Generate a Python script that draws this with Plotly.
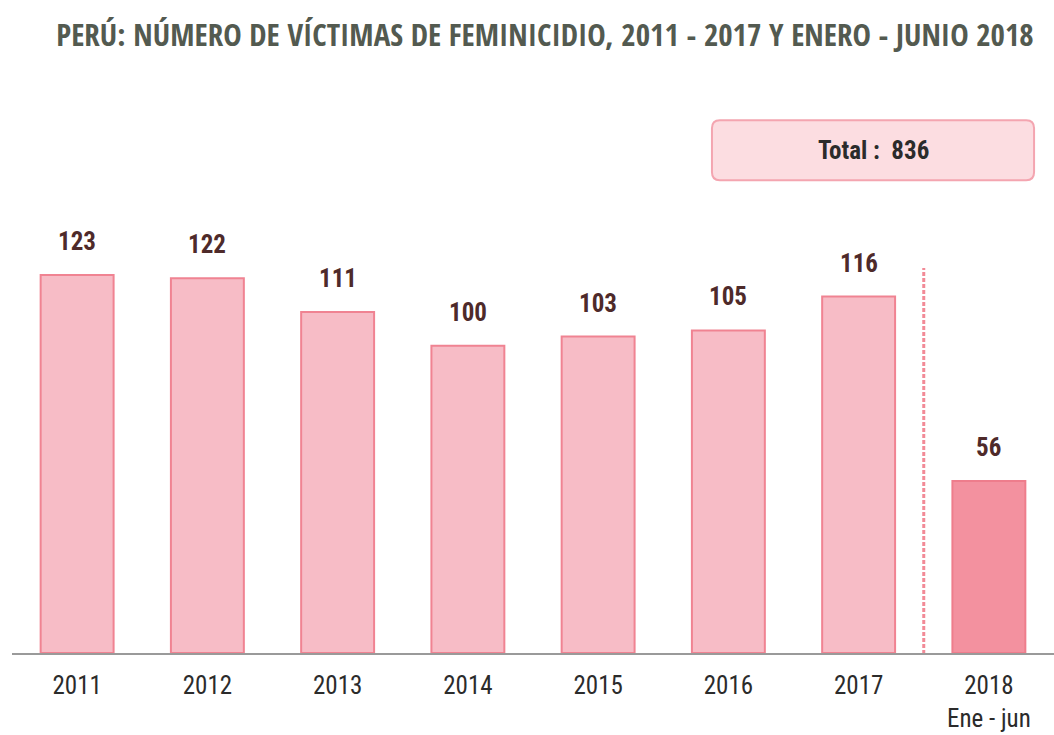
import plotly.graph_objects as go

years = ["2011", "2012", "2013", "2014", "2015", "2016", "2017", "2018"]
tick_labels = ["2011", "2012", "2013", "2014", "2015", "2016", "2017", "2018<br>Ene - jun"]
victims = [123, 122, 111, 100, 103, 105, 116, 56]
total_label = "Total :  836"
title = "PERÚ: NÚMERO DE VÍCTIMAS DE FEMINICIDIO, 2011 - 2017 Y ENERO - JUNIO 2018"

fills = ["#f7bcc6"] * 7 + ["#f3919f"]
lines = ["#f08392"] * 7 + ["#ee7d8c"]

narrow = "Roboto Condensed, Liberation Sans Narrow, DejaVu Sans Condensed, sans-serif"
title_font = "Open Sans Condensed, Roboto Condensed, sans-serif"

fig = go.Figure()
fig.add_trace(go.Bar(
    x=list(range(len(years))), y=victims,
    width=0.56,
    marker=dict(color=fills, line=dict(color=lines, width=2)),
    hoverinfo="skip",
))

for i, v in enumerate(victims):
    fig.add_annotation(x=i, y=v, text=f"<b>{v}</b>", showarrow=False,
                       yanchor="bottom", yshift=17,
                       font=dict(family=narrow, size=25, color="#4e2a2a"))

# dashed separator between 2017 and 2018
fig.add_shape(type="line", x0=6.5, x1=6.5, y0=-2.3, y1=125.3,
              xref="x", yref="y",
              line=dict(color="#f28a97", width=3, dash="4px,2px"))

# rounded total box
x0, x1, y0, y1 = 4.874, 7.347, 153.9, 173.4
rx, ry = 0.06, 2.6
path = (f"M {x0+rx},{y0} L {x1-rx},{y0} Q {x1},{y0} {x1},{y0+ry} "
        f"L {x1},{y1-ry} Q {x1},{y1} {x1-rx},{y1} L {x0+rx},{y1} "
        f"Q {x0},{y1} {x0},{y1-ry} L {x0},{y0+ry} Q {x0},{y0} {x0+rx},{y0} Z")
fig.add_shape(type="path", path=path, xref="x", yref="y",
              fillcolor="#fcdde1", line=dict(color="#f4a5b0", width=2))
fig.add_annotation(x=(x0 + x1) / 2, y=(y0 + y1) / 2, text=f"<b>{total_label}</b>",
                   showarrow=False, font=dict(family=narrow, size=25, color="#2b2b2b"))

fig.update_layout(
    width=1054, height=735,
    margin=dict(l=12, r=0, t=100, b=82),
    paper_bgcolor="white", plot_bgcolor="white",
    showlegend=False,
    title=dict(text=f"<b>{title}</b>", x=545/1054, xanchor="center",
               y=1 - 35/735, yanchor="middle", xref="container",
               font=dict(family=title_font, size=31, color="#535a50")),
    xaxis=dict(range=[-0.5, 7.5], tickmode="array", tickvals=list(range(len(years))),
               ticktext=tick_labels, showgrid=False, zeroline=False,
               showline=True, linecolor="#9a9a9a", linewidth=2,
               ticks="", ticklabelstandoff=9,
               tickfont=dict(family=narrow, size=25, color="#2b2b2b")),
    yaxis=dict(range=[0, 180], visible=False),
)

fig.write_html("out.html", config={"displayModeBar": False},
               post_script="document.body.style.margin='0';")
